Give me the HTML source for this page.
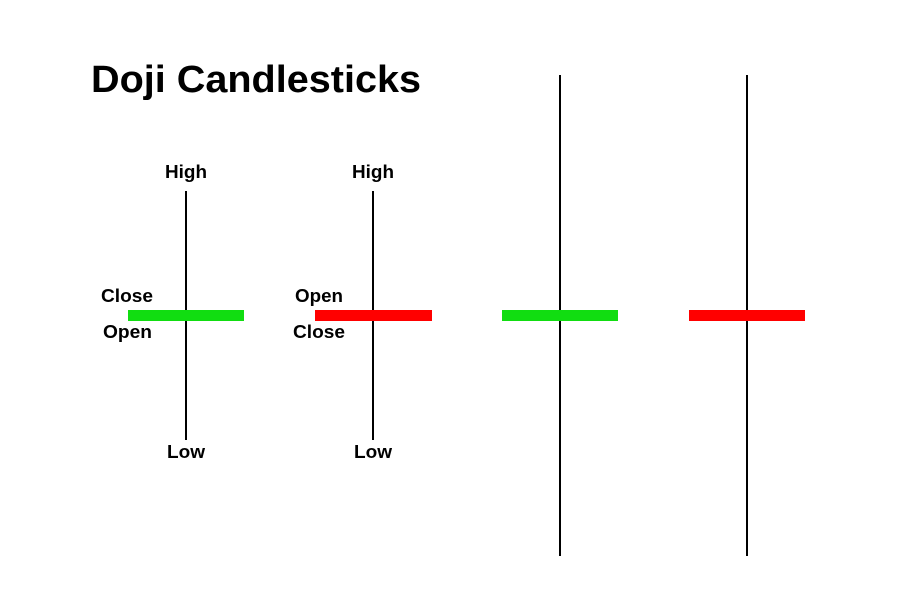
<!DOCTYPE html>
<html><head><style>
body{margin:0;background:#fff;}
svg text{font-family:"Liberation Sans",Arial,sans-serif;font-weight:bold;fill:#000;}
</style></head><body>
<svg width="897" height="595" viewBox="0 0 897 595" xmlns="http://www.w3.org/2000/svg">
<text x="91" y="92" font-size="38" textLength="330" lengthAdjust="spacingAndGlyphs">Doji Candlesticks</text>
<g stroke="#000" stroke-width="2">
<line x1="186" y1="191" x2="186" y2="440"/>
<line x1="373" y1="191" x2="373" y2="440"/>
<line x1="560" y1="75" x2="560" y2="556"/>
<line x1="747" y1="75" x2="747" y2="556"/>
</g>
<rect x="128" y="310" width="116" height="11" fill="#11dd11"/>
<rect x="315" y="310" width="117" height="11" fill="#ff0000"/>
<rect x="502" y="310" width="116" height="11" fill="#11dd11"/>
<rect x="689" y="310" width="116" height="11" fill="#ff0000"/>
<g font-size="18">
<text x="165" y="178" textLength="42" lengthAdjust="spacingAndGlyphs">High</text>
<text x="352" y="178" textLength="42" lengthAdjust="spacingAndGlyphs">High</text>
<text x="167" y="458" textLength="38" lengthAdjust="spacingAndGlyphs">Low</text>
<text x="354" y="458" textLength="38" lengthAdjust="spacingAndGlyphs">Low</text>
<text x="101" y="302" textLength="52" lengthAdjust="spacingAndGlyphs">Close</text>
<text x="103" y="338" textLength="49" lengthAdjust="spacingAndGlyphs">Open</text>
<text x="295" y="302" textLength="48" lengthAdjust="spacingAndGlyphs">Open</text>
<text x="293" y="338" textLength="52" lengthAdjust="spacingAndGlyphs">Close</text>
</g>
</svg>
</body></html>
